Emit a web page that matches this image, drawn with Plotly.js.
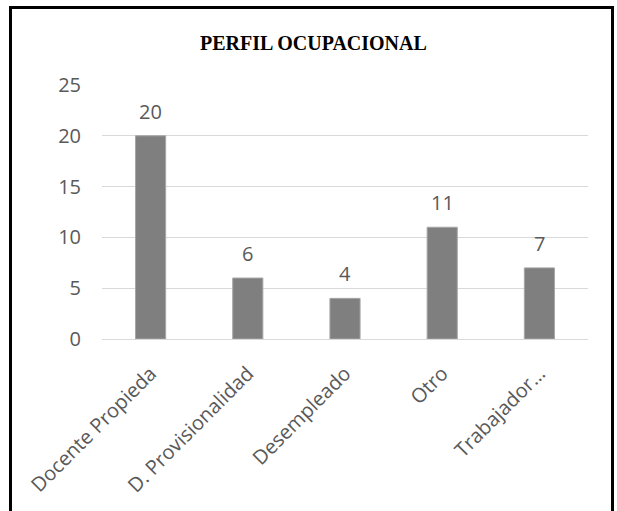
<!DOCTYPE html>
<html>
<head>
<meta charset="utf-8">
<script src="https://cdn.plot.ly/plotly-3.0.1.min.js"></script>
<style>
  html, body { margin: 0; padding: 0; background: #ffffff; overflow: hidden; }
  #chart { position: absolute; left: 0; top: 0; width: 617px; height: 511px; }
  #frame { position: absolute; left: 9px; top: 6px; width: 605px; height: 540px;
           border: 3px solid #000; box-sizing: border-box; pointer-events: none; }
</style>
</head>
<body>
<div id="chart"></div>
<div id="frame"></div>
<script>
const categories = ["Docente Propieda", "D. Provisionalidad", "Desempleado", "Otro", "Trabajador…"];
const values = [20, 6, 4, 11, 7];
const yTicks = [0, 5, 10, 15, 20, 25];
const chartTitle = "PERFIL OCUPACIONAL";

const labelFont = { family: "Open Sans, sans-serif", size: 20, color: "#595959" };
const xLabelFont = { family: "Open Sans, sans-serif", size: 20, color: "#595959" };

const trace = {
  type: "bar",
  x: categories,
  y: values,
  marker: { color: "#7f7f7f", line: { color: "#a6a6a6", width: 1 } },
  hoverinfo: "none"
};

const annotations = categories.map((c, i) => ({
  x: c, y: values[i], xref: "x", yref: "y",
  text: String(values[i]), showarrow: false,
  yanchor: "bottom", yshift: 9, font: labelFont
}));

const layout = {
  width: 617, height: 511,
  margin: { l: 102, r: 29, t: 85, b: 172 },
  paper_bgcolor: "#ffffff", plot_bgcolor: "#ffffff",
  title: { text: "<b>" + chartTitle + "</b>", x: 0.508, xanchor: "center", y: 0.915, yanchor: "middle",
           font: { family: "Liberation Serif, Times New Roman, serif", size: 20, color: "#000" } },
  bargap: 0.69,
  showlegend: false,
  xaxis: {
    type: "category", tickangle: -45, tickfont: xLabelFont,
    showgrid: false, showline: false, zeroline: false, ticks: "", ticklabelstandoff: 18
  },
  yaxis: {
    range: [0, 25], tickvals: yTicks, ticktext: yTicks.map(String),
    tickfont: labelFont, showgrid: true, gridcolor: "#d9d9d9", gridwidth: 1,
    zeroline: true, zerolinecolor: "#d9d9d9", zerolinewidth: 1,
    showline: false, ticks: "", ticklabelstandoff: 20
  },
  annotations: annotations
};

Plotly.newPlot("chart", [trace], layout, { displayModeBar: false, staticPlot: true });
</script>
</body>
</html>
